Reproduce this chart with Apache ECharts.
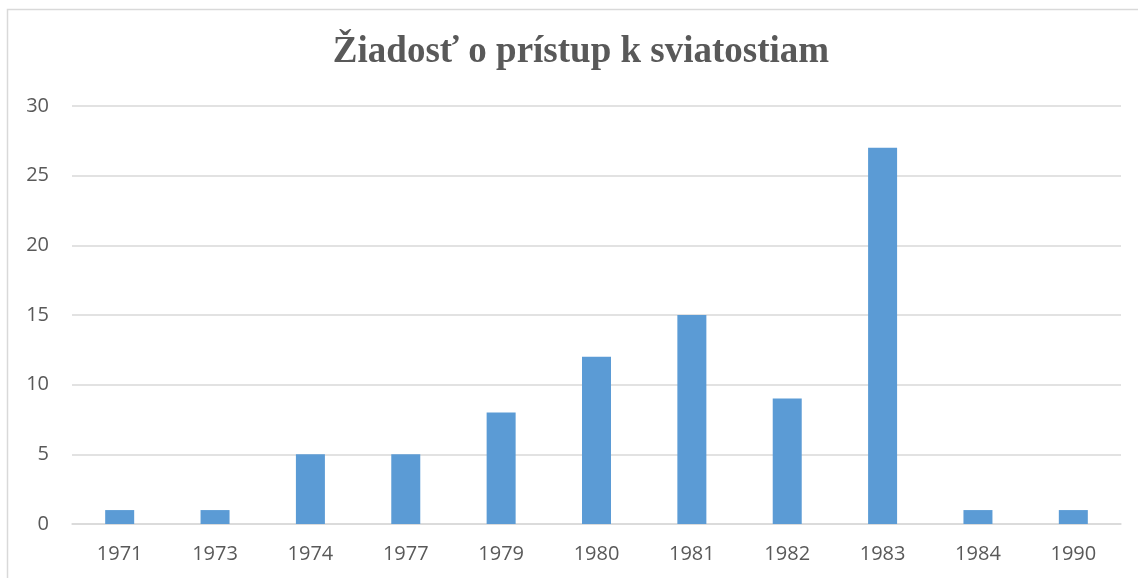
<!DOCTYPE html>
<html>
<head>
<meta charset="utf-8">
<script src="https://cdn.jsdelivr.net/npm/echarts@6/dist/echarts.min.js"></script>
<style>
html, body { margin: 0; padding: 0; background: #fff; }
#main { width: 1138px; height: 578px; }
</style>
</head>
<body>
<div id="main"></div>
<script>
// roky a počty žiadostí
var years = ['1971', '1973', '1974', '1977', '1979', '1980', '1981', '1982', '1983', '1984', '1990'];
var counts = [1, 1, 5, 5, 8, 12, 15, 9, 27, 1, 1];
var titleText = 'Žiadosť o prístup k sviatostiam';

var chart = echarts.init(document.getElementById('main'));
chart.setOption({
	animation: false,
	backgroundColor: '#fff',
	title: {
		text: titleText,
		left: 576,
		top: 29,
		textAlign: 'center',
		textStyle: {
			fontFamily: 'Liberation Serif',
			fontWeight: 'bold',
			fontSize: 37,
			color: '#595959'
		}
	},
	//rámik okolo grafu
	graphic: [{
		type: 'rect',
		shape: { x: 7.5, y: 9.5, width: 1200, height: 700 },
		style: { fill: 'none', stroke: '#d9d9d9', lineWidth: 1.5 },
		silent: true
	}],
	grid: {
		left: 72,
		right: 17,
		top: 106,
		bottom: 54
	},
	xAxis: {
		type: 'category',
		data: years,
		axisTick: { show: false },
		axisLine: { show: true, lineStyle: { color: '#d9d9d9', width: 1.5 } },
		axisLabel: {
			margin: 20,
			fontFamily: 'Open Sans',
			fontSize: 20,
			color: '#595959'
		}
	},
	yAxis: {
		type: 'value',
		min: 0,
		max: 30,
		interval: 5,
		axisLine: { show: false },
		axisTick: { show: false },
		splitLine: { lineStyle: { color: '#d9d9d9', width: 1.5 } },
		axisLabel: {
			margin: 23,
			fontFamily: 'Open Sans',
			fontSize: 20,
			color: '#595959'
		}
	},
	series: [{
		type: 'bar',
		data: counts,
		barWidth: 29,
		itemStyle: { color: '#5b9bd5' }
	}]
});
</script>
</body>
</html>
